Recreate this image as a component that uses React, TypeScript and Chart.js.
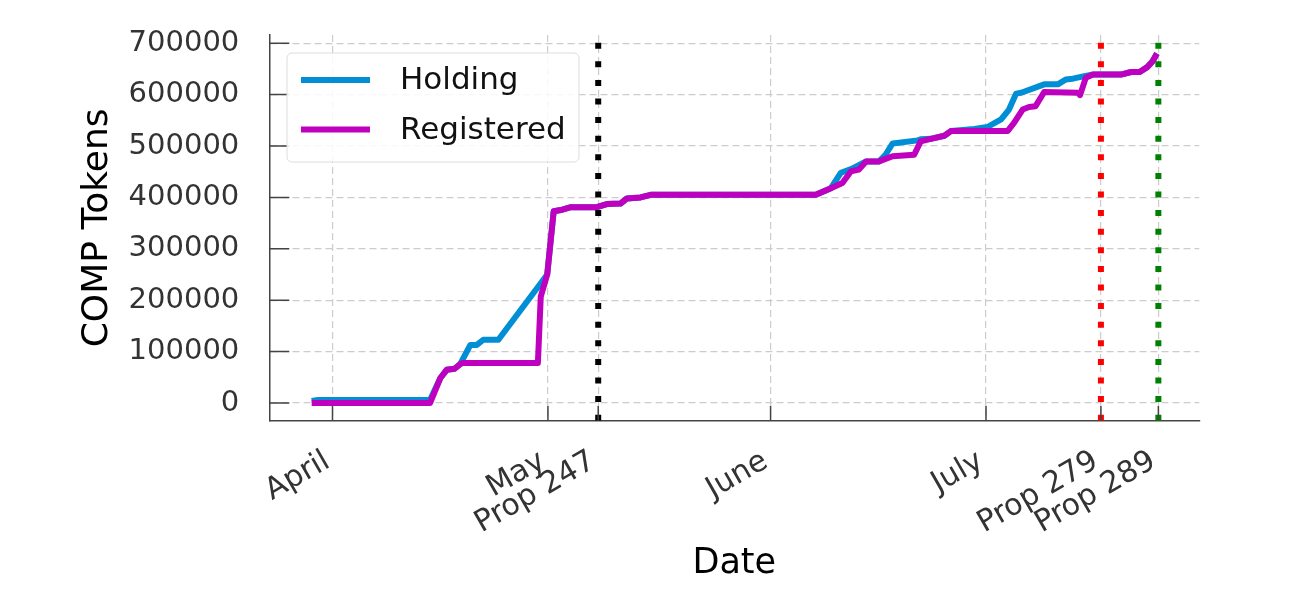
import { useEffect, useRef } from "react"
import { Chart, registerables } from "chart.js"

Chart.register(...registerables)

// days counted from April 1
const holdingDays = [-2.9, -2.0, 13.6, 15.0, 15.9, 17.0, 17.8, 19.2, 20.1, 21.0, 23.1, 29.0, 29.9, 30.8, 32.0, 33.2, 36.8, 38.2, 40.1, 41.0, 42.9, 44.3, 67.3, 69.4, 70.8, 72.2, 74.3, 76.1, 77.0, 78.0, 81.5, 81.9, 83.3, 85.2, 86.1, 89.4, 91.2, 93.1, 94.2, 95.2, 95.9, 99.1, 101.0, 102.1, 103.1, 104.7, 105.9, 109.8, 111.2, 112.4, 113.5, 114.2, 114.8]
const holdingValues = [4000, 6000, 6000, 48000, 64500, 66500, 76000, 113000, 113000, 123000, 123000, 233000, 250000, 373000, 376000, 381000, 381000, 387000, 388000, 398000, 400000, 405000, 405000, 418000, 448000, 455000, 470000, 470000, 483000, 505000, 511000, 513000, 514000, 520000, 529000, 533000, 537000, 552000, 571000, 602000, 603600, 620000, 620000, 629500, 631000, 636000, 639000, 639000, 644000, 644000, 654000, 665000, 680000]

const registeredDays = [-2.9, 13.6, 15.0, 15.9, 17.0, 17.8, 18.2, 28.6, 29.0, 29.9, 30.8, 32.0, 33.2, 36.8, 38.2, 40.1, 41.0, 42.9, 44.3, 67.3, 69.4, 71.0, 72.2, 73.3, 74.3, 76.1, 78.0, 81.0, 81.9, 83.3, 85.2, 86.1, 94.0, 94.9, 96.1, 97.0, 97.9, 99.1, 103.8, 104.1, 104.9, 105.9, 109.8, 111.2, 112.4, 113.5, 114.2, 114.8]
const registeredValues = [0, 0, 48000, 64500, 66500, 76000, 78000, 78000, 207000, 250000, 373000, 376000, 381000, 381000, 387000, 388000, 398000, 400000, 405000, 405000, 418000, 428000, 451000, 454000, 470000, 470000, 480000, 483000, 509000, 514000, 520000, 529000, 529000, 545000, 571000, 576000, 577500, 605000, 603600, 599000, 633000, 639000, 639000, 644000, 644000, 654000, 665000, 680000]

const propNames = ["Prop 247", "Prop 279", "Prop 289"]
const propDays = [37, 107, 115]
const propColors = ["#000000", "#ff0000", "#008000"]

const xTickDays = [0, 30, 37, 61, 91, 107, 115]
const xTickLabels = ["April", "May", "Prop 247", "June", "July", "Prop 279", "Prop 289"]
const yTickValues = [0, 100000, 200000, 300000, 400000, 500000, 600000, 700000]

const X_MIN = -8.8
const X_MAX = 120.7
const Y_MIN = -34500
const Y_MAX = 716000

const FONT = "'DejaVu Sans', sans-serif"
const TICK_COLOR = "#333333"
const SPINE_COLOR = "#444444"
const GRID_COLOR = "#cccccc"

const legendItems = [
  { label: "Holding", color: "#008fd5" },
  { label: "Registered", color: "#bf00bf" },
]

const insideTicks = {
  id: "insideTicks",
  afterDraw(chart: Chart) {
    const { ctx, chartArea, scales } = chart
    ctx.save()
    ctx.strokeStyle = SPINE_COLOR
    ctx.lineWidth = 1.5
    ctx.beginPath()
    for (const v of yTickValues) {
      const y = scales.y.getPixelForValue(v)
      ctx.moveTo(chartArea.left, y)
      ctx.lineTo(chartArea.left + 20, y)
    }
    for (const d of xTickDays) {
      const x = scales.x.getPixelForValue(d)
      ctx.moveTo(x, chartArea.bottom)
      ctx.lineTo(x, chartArea.bottom - 15)
    }
    ctx.stroke()
    ctx.restore()
  },
}

const boxLegend = {
  id: "boxLegend",
  afterDraw(chart: Chart) {
    const { ctx } = chart
    const x = 287
    const y = 53
    const w = 292
    const h = 109
    ctx.save()
    ctx.beginPath()
    ctx.roundRect(x, y, w, h, 5)
    ctx.fillStyle = "rgba(255,255,255,0.85)"
    ctx.fill()
    ctx.strokeStyle = "#dddddd"
    ctx.lineWidth = 1
    ctx.stroke()
    ctx.font = `31px ${FONT}`
    ctx.textBaseline = "middle"
    legendItems.forEach((item, i) => {
      const ly = 80 + i * 49.5
      ctx.strokeStyle = item.color
      ctx.lineWidth = 6
      ctx.beginPath()
      ctx.moveTo(301, ly)
      ctx.lineTo(370, ly)
      ctx.stroke()
      ctx.fillStyle = "#111111"
      ctx.fillText(item.label, 400, ly + 1)
    })
    ctx.restore()
  },
}

export default function App() {
  const chartRef = useRef<HTMLCanvasElement>(null)
  const chartInstance = useRef<Chart | null>(null)

  useEffect(() => {
    document.body.style.margin = "0"
    document.body.style.overflow = "hidden"
    if (!chartRef.current) return
    if (chartInstance.current) chartInstance.current.destroy()
    const ctx = chartRef.current.getContext("2d")
    if (!ctx) return

    const propSets = propDays.map((d, i) => ({
      label: propNames[i],
      data: [
        { x: d, y: Y_MIN },
        { x: d, y: Y_MAX },
      ],
      borderColor: propColors[i],
      borderWidth: 6,
      borderDash: [6, 12.6],
      borderCapStyle: "butt" as const,
      pointRadius: 0,
      order: 0,
    }))

    chartInstance.current = new Chart(ctx, {
      type: "line",
      data: {
        datasets: [
          {
            label: "Holding",
            data: holdingDays.map((d, i) => ({ x: d, y: holdingValues[i] })),
            borderColor: "#008fd5",
            borderWidth: 6,
            pointRadius: 0,
            borderJoinStyle: "round",
            order: 2,
          },
          {
            label: "Registered",
            data: registeredDays.map((d, i) => ({ x: d, y: registeredValues[i] })),
            borderColor: "#bf00bf",
            borderWidth: 6,
            pointRadius: 0,
            borderJoinStyle: "round",
            order: 1,
          },
          ...propSets,
        ],
      },
      options: {
        responsive: false,
        animation: false,
        events: [],
        layout: { padding: { top: 35, right: 94.7, left: 0, bottom: 0 } },
        scales: {
          x: {
            type: "linear",
            min: X_MIN,
            max: X_MAX,
            afterBuildTicks: (scale) => {
              scale.ticks = xTickDays.map((v) => ({ value: v }))
            },
            afterFit: (scale) => {
              scale.height = 596 - 420.7
              scale.paddingLeft = 0
              scale.paddingRight = 0
            },
            grid: { color: GRID_COLOR, lineWidth: 1.2, drawTicks: false },
            border: { color: SPINE_COLOR, width: 1.5, dash: [7, 4] },
            ticks: {
              autoSkip: false,
              maxRotation: 30,
              minRotation: 30,
              padding: 23,
              labelOffset: -5,
              color: TICK_COLOR,
              font: { family: FONT, size: 30 },
              callback: (_v, i) => xTickLabels[i],
            },
            title: {
              display: true,
              text: "Date",
              color: "#000000",
              font: { family: FONT, size: 35 },
              padding: { top: 0, bottom: 11 },
            },
          },
          y: {
            type: "linear",
            min: Y_MIN,
            max: Y_MAX,
            afterBuildTicks: (scale) => {
              scale.ticks = yTickValues.map((v) => ({ value: v }))
            },
            afterFit: (scale) => {
              scale.width = 269.3
              scale.paddingTop = 0
              scale.paddingBottom = 0
            },
            grid: { color: GRID_COLOR, lineWidth: 1.2, drawTicks: false },
            border: { color: SPINE_COLOR, width: 1.5, dash: [7, 4] },
            ticks: {
              padding: 30,
              color: TICK_COLOR,
              font: { family: FONT, size: 29 },
              callback: (v) => String(v),
            },
            title: {
              display: true,
              text: "COMP Tokens",
              color: "#000000",
              font: { family: FONT, size: 36 },
              padding: { top: 76, bottom: 0 },
            },
          },
        },
        plugins: {
          legend: { display: false },
          tooltip: { enabled: false },
        },
      },
      plugins: [insideTicks, boxLegend],
    })

    return () => {
      if (chartInstance.current) {
        chartInstance.current.destroy()
        chartInstance.current = null
      }
    }
  }, [])

  return (
    <div style={{ width: 1294, height: 596 }}>
      <canvas ref={chartRef} width={1294} height={596} />
    </div>
  )
}
